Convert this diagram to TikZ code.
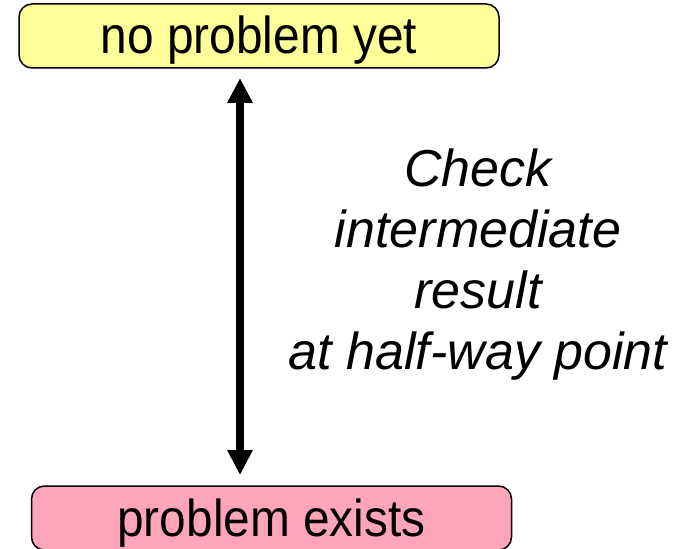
\documentclass[tikz,border=0pt]{standalone}
\usepackage{fontspec}
\setmainfont{Liberation Sans}
\newfontfamily\boxfont[FakeStretch=0.92]{Liberation Sans}
\usepackage{tikz}
\usetikzlibrary{positioning}
\usetikzlibrary{arrows.meta,calc}
\definecolor{okyellow}{RGB}{255,255,153}
\definecolor{badpink}{RGB}{255,165,186}
\tikzset{
    % arrow between the two states
    pil/.style={
           {Triangle[length=25pt,width=24pt]}-{Triangle[length=25pt,width=24pt]},
           color=black,
           line width=8pt,
           shorten <=10pt,
           shorten >=11pt,}
}
\newcommand{\statefont}{\boxfont\fontsize{52}{60}\selectfont}

\begin{document}
\begin{tikzpicture}[outer sep = 0pt]
\tikzstyle{statebox}=[draw=black, rectangle, line width=1.5pt, rounded corners=13pt,
                   minimum width=480pt, text height=50pt, text depth=14pt, inner sep=0pt,
                   font=\statefont, align=center]
\tikzstyle{checktext}=[inner sep=0pt, align=center, anchor=north,
                   font=\fontsize{52}{61}\selectfont\itshape]

\useasboundingbox (0pt,0pt) rectangle (687pt,-548pt);

%%%%%%%%%%%%%%%%%%%%%%%%%%%%%%%%%
% states
%%%%%%%%%%%%%%%%%%%%%%%%%%%%%%%%%
    \node[statebox, fill=okyellow] (good) at (259pt,-36pt) {no problem yet};
    \node[statebox, fill=badpink]  (bad)  at (271.5pt,-518pt) {problem exists};

\coordinate (axis) at (240pt,0pt);
\path[pil] (good.south -| axis) edge (bad.north -| axis);

%%%%%%%%%%%%%%%%%%%%%%%%%%%%%%%%%
% check
%%%%%%%%%%%%%%%%%%%%%%%%%%%%%%%%%
    \node[checktext] (check) at (478pt,-149pt) {Check\\intermediate\\result\\at half-way point};

\end{tikzpicture}
\end{document}
